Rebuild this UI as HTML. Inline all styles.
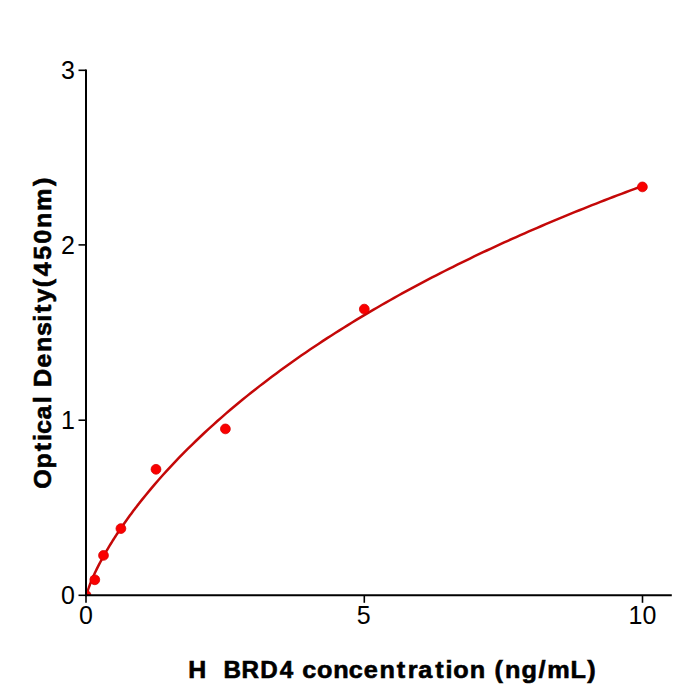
<!DOCTYPE html>
<html><head><meta charset="utf-8"><title>BRD4 standard curve</title><style>
html,body{margin:0;padding:0;background:#fff;width:700px;height:700px;overflow:hidden}
svg{position:absolute;left:0;top:0;display:block}
text{font-family:"Liberation Sans",sans-serif;fill:#000}
.t{font-size:25px}
.b{font-size:24px;font-weight:bold;stroke:#000;stroke-width:0.6px}
</style></head><body>
<svg width="700" height="700" viewBox="0 0 700 700">
<defs><clipPath id="ax"><rect x="86" y="60" width="600" height="535.3"/></clipPath></defs>
<polyline clip-path="url(#ax)" points="86.00,597.05 86.09,597.02 86.19,596.51 86.28,596.06 86.37,595.63 86.46,595.23 86.56,594.85 86.65,594.48 86.74,594.13 86.83,593.78 86.93,593.44 87.02,593.11 87.11,592.78 87.21,592.46 87.30,592.15 87.39,591.84 87.48,591.54 87.58,591.24 87.67,590.94 87.76,590.65 87.86,590.36 87.95,590.08 88.04,589.79 88.13,589.51 88.23,589.24 88.32,588.96 88.41,588.69 88.50,588.42 88.60,588.16 88.69,587.89 88.78,587.63 89.66,585.22 90.54,582.95 91.43,580.78 92.31,578.69 93.19,576.67 94.07,574.71 94.95,572.81 95.83,570.95 96.71,569.13 97.59,567.35 98.47,565.61 99.36,563.89 100.24,562.21 101.12,560.55 102.00,558.92 102.88,557.31 103.76,555.73 104.64,554.17 105.52,552.62 106.41,551.10 107.29,549.60 108.17,548.11 109.05,546.64 109.93,545.18 110.81,543.75 111.69,542.32 112.57,540.91 113.45,539.52 114.34,538.13 115.22,536.76 116.10,535.40 116.98,534.06 117.86,532.72 118.74,531.40 119.62,530.09 120.50,528.79 121.38,527.50 122.27,526.22 123.15,524.94 124.03,523.68 124.91,522.43 125.79,521.19 126.67,519.95 127.55,518.73 128.43,517.51 129.31,516.30 130.20,515.10 131.08,513.91 131.96,512.72 132.84,511.54 133.72,510.37 134.60,509.21 135.48,508.05 136.36,506.90 137.24,505.76 138.13,504.63 139.01,503.50 139.89,502.37 140.77,501.26 141.65,500.15 145.86,494.93 150.07,489.84 154.28,484.88 158.49,480.03 162.69,475.28 166.90,470.63 171.11,466.08 175.32,461.62 179.53,457.24 183.74,452.94 187.95,448.72 192.16,444.57 196.36,440.49 200.57,436.48 204.78,432.53 208.99,428.65 213.20,424.82 217.41,421.05 221.62,417.34 225.83,413.68 230.04,410.07 234.24,406.52 238.45,403.01 242.66,399.55 246.87,396.13 251.08,392.76 255.29,389.43 259.50,386.14 263.71,382.90 267.91,379.69 272.12,376.52 276.33,373.39 280.54,370.29 284.75,367.23 288.96,364.21 293.17,361.22 297.38,358.26 301.59,355.33 305.79,352.44 310.00,349.58 314.21,346.74 318.42,343.94 322.63,341.16 326.84,338.42 331.05,335.70 335.26,333.00 339.46,330.34 343.67,327.70 347.88,325.08 352.09,322.50 356.30,319.93 360.51,317.39 364.72,314.87 368.93,312.38 373.14,309.91 377.34,307.46 381.55,305.03 385.76,302.62 389.97,300.24 394.18,297.88 398.39,295.53 402.60,293.21 406.81,290.90 411.01,288.62 415.22,286.36 419.43,284.11 423.64,281.88 427.85,279.67 432.06,277.48 436.27,275.31 440.48,273.15 444.69,271.01 448.89,268.89 453.10,266.78 457.31,264.69 461.52,262.62 465.73,260.56 469.94,258.51 474.15,256.49 478.36,254.48 482.56,252.48 486.77,250.50 490.98,248.53 495.19,246.57 499.40,244.64 503.61,242.71 507.82,240.80 512.03,238.90 516.24,237.02 520.44,235.15 524.65,233.29 528.86,231.44 533.07,229.61 537.28,227.79 541.49,225.98 545.70,224.19 549.91,222.40 554.11,220.63 558.32,218.87 562.53,217.12 566.74,215.39 570.95,213.66 575.16,211.95 579.37,210.25 583.58,208.55 587.79,206.87 591.99,205.20 596.20,203.54 600.41,201.89 604.62,200.25 608.83,198.63 613.04,197.01 617.25,195.40 621.46,193.80 625.66,192.21 629.87,190.63 634.08,189.06 638.29,187.50 642.50,185.95" fill="none" stroke="#c40808" stroke-width="2.5" stroke-linejoin="round"/>
<g clip-path="url(#ax)" fill="#fa0000" stroke="#d80000" stroke-width="0.8">
<circle cx="86" cy="595.3" r="4.9"/>
<circle cx="94.8" cy="579.8" r="4.9"/>
<circle cx="103.5" cy="555.4" r="4.9"/>
<circle cx="120.9" cy="528.6" r="4.9"/>
<circle cx="156" cy="469.3" r="4.9"/>
<circle cx="225.4" cy="428.9" r="4.9"/>
<circle cx="364.3" cy="309.1" r="4.9"/>
<circle cx="642.4" cy="186.9" r="4.9"/>
</g>
<g stroke="#000" fill="none">
<line x1="86" y1="69.5" x2="86" y2="596.3" stroke-width="2"/>
<line x1="85" y1="595.3" x2="671.8" y2="595.3" stroke-width="2"/>
<g stroke-width="1.6">
<line x1="78.5" y1="595.3" x2="86" y2="595.3"/>
<line x1="78.5" y1="420.2" x2="86" y2="420.2"/>
<line x1="78.5" y1="244.9" x2="86" y2="244.9"/>
<line x1="78.5" y1="70.3" x2="86" y2="70.3"/>
<line x1="86" y1="595.3" x2="86" y2="602.8"/>
<line x1="364.3" y1="595.3" x2="364.3" y2="602.8"/>
<line x1="642.5" y1="595.3" x2="642.5" y2="602.8"/>
</g></g>
<g class="t" text-anchor="end">
<text x="75" y="604">0</text>
<text x="75" y="429">1</text>
<text x="75" y="254">2</text>
<text x="75" y="78.5">3</text>
</g>
<g class="t" text-anchor="middle">
<text x="86" y="624">0</text>
<text x="363.6" y="624">5</text>
<text x="642.5" y="624">10</text>
</g>
<g class="b" transform="translate(0,678)">
<text transform="scale(1.0361,1)" x="181.78">H</text>
<text transform="scale(1.0072,1)" x="221.88 239.90 258.32 277.69">BRD4</text>
<text transform="scale(1.0522,1)" x="287.29 301.20 316.72 331.44 345.80 360.69 377.09 387.58 397.41 413.58 423.46 430.87 446.40">concentration</text>
<text transform="scale(1.0522,1)" x="469.87 480.03 495.72 511.82 520.08 542.32 558.03">(ng/mL)</text>
</g>
<g class="b" transform="translate(51.4,488) rotate(-90)">
<text transform="scale(1.0462,1)" x="-0.83 18.74 35.12 45.05 51.73 65.40 80.91">Optical</text>
<text transform="scale(1.0492,1)" x="96.22 114.70 129.61 144.88 158.53 166.86 176.74 191.31 201.82 217.45 232.87 247.84 263.95 287.80">Density(450nm)</text>
</g>
</svg>
</body></html>
